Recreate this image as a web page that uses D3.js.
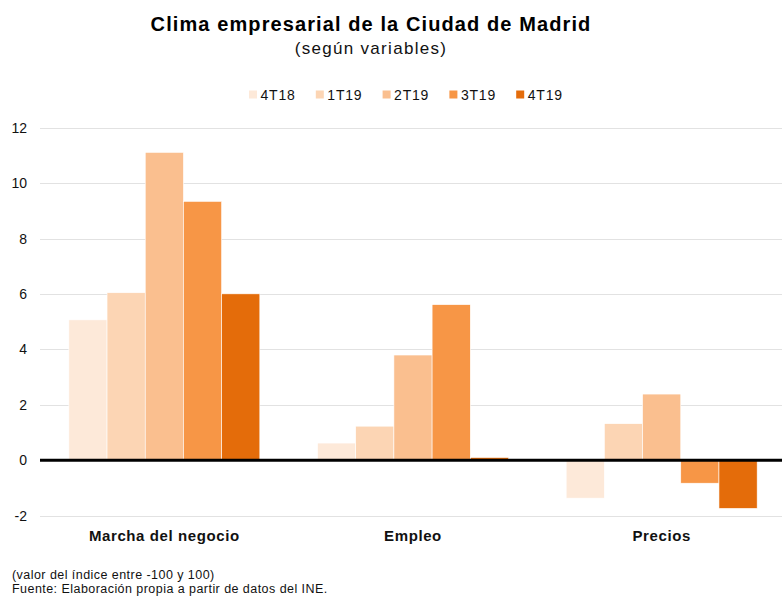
<!DOCTYPE html>
<html><head><meta charset="utf-8">
<script src="https://cdn.jsdelivr.net/npm/d3@7"></script>
<style>body{margin:0;background:#fff;} text{font-family:"Liberation Sans",Arial,Helvetica,sans-serif;}</style>
</head><body>
<svg id="c" width="782" height="599"></svg>
<script>
const categories = ["Marcha del negocio", "Empleo", "Precios"];
const seriesNames = ["4T18", "1T19", "2T19", "3T19", "4T19"];
const s4T18 = [5.07, 0.62, -1.37];
const s1T19 = [6.05, 1.23, 1.32];
const s2T19 = [11.12, 3.80, 2.39];
const s3T19 = [9.35, 5.62, -0.83];
const s4T19 = [6.01, 0.10, -1.74];
const seriesValues = [s4T18, s1T19, s2T19, s3T19, s4T19];
const yTicks = [-2, 0, 2, 4, 6, 8, 10, 12];
const colors = ["#FDE9D9", "#FCD5B4", "#FABF8F", "#F79646", "#E46C0A"];
const title = "Clima empresarial de la Ciudad de Madrid";
const subtitle = "(según variables)";
const notes = ["(valor del índice entre -100 y 100)", "Fuente: Elaboración propia a partir de datos del INE."];

const svg = d3.select("#c");
const y = d3.scaleLinear().domain([-2, 12]).range([515.6, 128]);
const x0 = d3.scaleBand().domain(categories).range([40, 786]);
const x1 = d3.scaleBand().domain(seriesNames).range([0, x0.bandwidth()]).paddingInner(0).paddingOuter(0.755);

// gridlines
svg.append("g").selectAll("line").data(yTicks.filter(d => d !== 0)).join("line")
  .attr("x1", 40).attr("x2", 782)
  .attr("y1", d => Math.round(y(d)) + 0.5).attr("y2", d => Math.round(y(d)) + 0.5)
  .attr("stroke", "#e2e2e2").attr("stroke-width", 1);

// y labels
svg.append("g").selectAll("text").data(yTicks).join("text")
  .attr("x", 27).attr("y", d => y(d)).attr("dy", "0.35em")
  .attr("text-anchor", "end").attr("font-size", 14).attr("fill", "#111")
  .text(d => d);

// bars
const data = [];
categories.forEach((c, i) => seriesNames.forEach((s, j) => data.push({c, s, j, v: seriesValues[j][i]})));
svg.append("g").selectAll("rect").data(data).join("rect")
  .attr("x", d => x0(d.c) + x1(d.s))
  .attr("width", x1.bandwidth())
  .attr("y", d => y(Math.max(0, d.v)))
  .attr("height", d => Math.abs(y(d.v) - y(0)))
  .attr("fill", d => colors[d.j])
  .attr("stroke", "#fff").attr("stroke-width", 0.6);

// zero line
svg.append("line").attr("x1", 40).attr("x2", 782).attr("y1", y(0)).attr("y2", y(0))
  .attr("stroke", "#000").attr("stroke-width", 3);

// category labels
svg.append("g").selectAll("text").data(categories).join("text")
  .attr("x", d => x0(d) + x0.bandwidth() / 2).attr("y", 541)
  .attr("text-anchor", "middle").attr("font-size", 15).attr("letter-spacing", 0.6)
  .attr("font-weight", "bold").attr("fill", "#111")
  .text(d => d);

// title
svg.append("text").attr("x", 371).attr("y", 31).attr("text-anchor", "middle")
  .attr("font-size", 20).attr("letter-spacing", 1.1)
  .attr("font-weight", "bold").attr("fill", "#000").text(title);
svg.append("text").attr("x", 371).attr("y", 54).attr("text-anchor", "middle")
  .attr("font-size", 17).attr("letter-spacing", 1.3).attr("fill", "#111").text(subtitle);

// legend
const lg = svg.append("g").selectAll("g").data(seriesNames).join("g")
  .attr("transform", (d, i) => `translate(${249 + i * 66.8},95)`);
lg.append("rect").attr("x", 0).attr("y", -4.5).attr("width", 8).attr("height", 8)
  .attr("fill", (d, i) => colors[i]);
lg.append("text").attr("x", 11.5).attr("y", 0).attr("dy", "0.35em")
  .attr("font-size", 14).attr("letter-spacing", 0.8).attr("fill", "#111").text(d => d);

// notes
svg.append("g").selectAll("text").data(notes).join("text")
  .attr("x", 12).attr("y", (d, i) => 579 + i * 14)
  .attr("font-size", 12.5).attr("letter-spacing", 0.45).attr("fill", "#111").text(d => d);
</script>
</body></html>
